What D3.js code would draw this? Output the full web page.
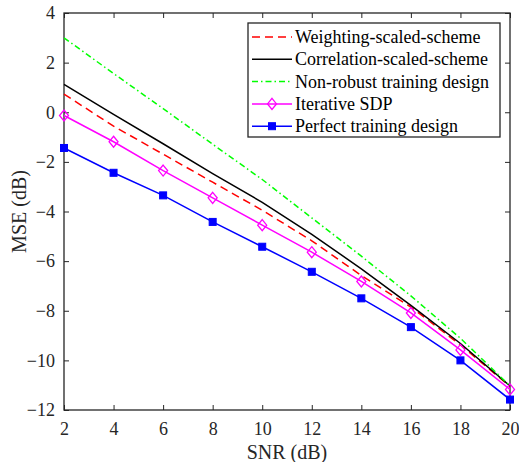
<!DOCTYPE html>
<html>
<head>
    <meta charset="utf-8">
    <script src="https://cdn.jsdelivr.net/npm/d3@7"></script>
    <style>
        body { margin: 0; background: #fff; }
        svg text { font-family: "Liberation Serif", "Times New Roman", serif; fill: #262626; }
        .tick text { font-size: 18px; }
    </style>
</head>
<body>
<svg width="519" height="462"></svg>
<script>
    // Data
    var snr = [2, 4, 6, 8, 10, 12, 14, 16, 18, 20];
    var weighting   = [0.73, -0.56, -1.69, -2.82, -3.95, -5.18, -6.58, -7.85, -9.38, -11.05];
    var correlation = [1.12, -0.09, -1.27, -2.47, -3.63, -4.92, -6.31, -7.78, -9.32, -11.03];
    var nonRobust   = [3.00, 1.56, 0.15, -1.29, -2.71, -4.26, -5.80, -7.40, -9.11, -11.03];
    var iterative   = [-0.13, -1.19, -2.35, -3.45, -4.55, -5.64, -6.82, -8.09, -9.58, -11.17];
    var perfect     = [-1.44, -2.44, -3.35, -4.42, -5.42, -6.43, -7.50, -8.66, -10.00, -11.58];
    var xTicks = [2, 4, 6, 8, 10, 12, 14, 16, 18, 20];
    var yTicks = [-12, -10, -8, -6, -4, -2, 0, 2, 4];

    var series = [
        { name: "Weighting-scaled-scheme", values: weighting, color: "#ff0000", dash: "8,5", marker: null },
        { name: "Correlation-scaled-scheme", values: correlation, color: "#000000", dash: null, marker: null },
        { name: "Non-robust training design", values: nonRobust, color: "#00ff00", dash: "6,3,1.5,3", marker: null },
        { name: "Iterative SDP", values: iterative, color: "#ff00ff", dash: null, marker: "diamond" },
        { name: "Perfect training design", values: perfect, color: "#0000ff", dash: null, marker: "square" }
    ];

    var svg = d3.select("svg"),
        margin = { top: 13, right: 9, bottom: 52, left: 64 },
        width = 519 - margin.left - margin.right,
        height = 462 - margin.top - margin.bottom,
        g = svg.append("g").attr("transform", "translate(" + margin.left + "," + margin.top + ")");

    var x = d3.scaleLinear().domain([2, 20]).range([0, width]);
    var y = d3.scaleLinear().domain([-12, 4]).range([height, 0]);

    // Axes (box with inward ticks on all sides)
    function styleAxis(sel) {
        sel.attr("font-family", null).attr("font-size", null);
        sel.select(".domain").remove();
        sel.selectAll(".tick line").attr("stroke", "#262626").attr("stroke-width", 1);
    }
    g.append("g").attr("transform", "translate(0," + height + ")")
        .call(d3.axisBottom(x).tickValues(xTicks).tickSizeInner(-5).tickSizeOuter(0).tickPadding(12).tickFormat(d3.format("d")))
        .call(styleAxis);
    g.append("g")
        .call(d3.axisLeft(y).tickValues(yTicks).tickSizeInner(-5).tickSizeOuter(0).tickPadding(9).tickFormat(d3.format("d")))
        .call(styleAxis);
    g.append("g")
        .call(d3.axisTop(x).tickValues(xTicks).tickSizeInner(-5).tickSizeOuter(0).tickFormat(""))
        .call(styleAxis);
    g.append("g").attr("transform", "translate(" + width + ",0)")
        .call(d3.axisRight(y).tickValues(yTicks).tickSizeInner(-5).tickSizeOuter(0).tickFormat(""))
        .call(styleAxis);
    g.append("rect")
        .attr("width", width).attr("height", height)
        .attr("fill", "none").attr("stroke", "#262626").attr("stroke-width", 1.3);

    // Lines
    var line = d3.line()
        .x(function(d, i) { return x(snr[i]); })
        .y(function(d) { return y(d); });

    function drawMarker(sel, type, color) {
        if (type === "diamond") {
            sel.append("path")
                .attr("d", "M0,-5.5L4.5,0L0,5.5L-4.5,0Z")
                .attr("fill", "none").attr("stroke", color).attr("stroke-width", 1.3);
        } else if (type === "square") {
            sel.append("rect")
                .attr("x", -3.5).attr("y", -3.5).attr("width", 7).attr("height", 7)
                .attr("fill", color).attr("stroke", color).attr("stroke-width", 1);
        }
    }

    series.forEach(function(s) {
        g.append("path")
            .datum(s.values)
            .attr("d", line)
            .attr("fill", "none")
            .attr("stroke", s.color)
            .attr("stroke-width", 1.5)
            .attr("stroke-dasharray", s.dash);
        if (s.marker) {
            g.selectAll(null)
                .data(s.values)
                .enter().append("g")
                .attr("transform", function(d, i) { return "translate(" + x(snr[i]) + "," + y(d) + ")"; })
                .each(function() { drawMarker(d3.select(this), s.marker, s.color); });
        }
    });

    // Axis labels
    svg.append("text")
        .attr("x", margin.left + width / 2).attr("y", 459)
        .attr("text-anchor", "middle").style("font-size", "20px")
        .text("SNR (dB)");
    svg.append("text")
        .attr("transform", "translate(26," + (margin.top + height / 2) + ") rotate(-90)")
        .attr("text-anchor", "middle").style("font-size", "20px")
        .text("MSE (dB)");

    // Legend
    var legend = svg.append("g").attr("transform", "translate(248,23)");
    legend.append("rect")
        .attr("width", 252).attr("height", 114)
        .attr("fill", "#fff").attr("stroke", "#262626").attr("stroke-width", 1.3);
    series.forEach(function(s, i) {
        var row = legend.append("g").attr("transform", "translate(0," + (14 + i * 22.3) + ")");
        row.append("line")
            .attr("x1", 4).attr("x2", 44)
            .attr("stroke", s.color).attr("stroke-width", 1.5)
            .attr("stroke-dasharray", s.dash);
        if (s.marker) {
            var m = row.append("g").attr("transform", "translate(24,0)");
            drawMarker(m, s.marker, s.color);
        }
        row.append("text")
            .attr("x", 47).attr("dy", "0.33em")
            .style("font-size", "18px").style("fill", "#000")
            .text(s.name);
    });
</script>
</body>
</html>
